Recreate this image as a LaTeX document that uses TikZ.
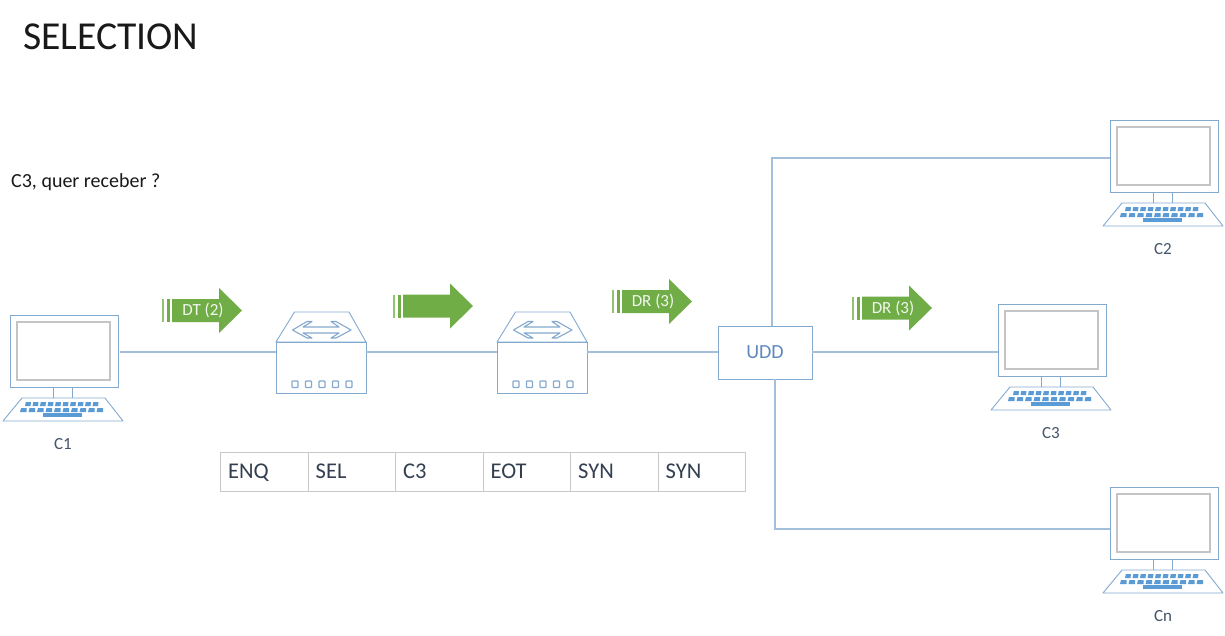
\documentclass[tikz,border=0pt]{standalone}
\usepackage{fontspec}
\setmainfont{Carlito}
\definecolor{wire}{HTML}{A3BFDC}
\definecolor{edge}{HTML}{84A9CF}
\definecolor{keyc}{HTML}{5B9BD5}
\definecolor{screen}{HTML}{C4C4C4}
\definecolor{flow}{HTML}{70AD47}
\definecolor{cap}{HTML}{44546A}
\definecolor{tabline}{HTML}{C9C9C9}
\definecolor{tabtext}{HTML}{333F50}
\definecolor{uddtext}{HTML}{5F89BE}
\tikzset{
  wireline/.style={draw=wire,line width=1.4pt},
  edgeline/.style={draw=edge,line width=0.9pt},
  monitorbox/.style={edgeline,fill=white,minimum width=108pt,minimum height=72pt,inner sep=0pt,anchor=north west},
  caplabel/.style={text=cap,font=\fontsize{17}{17}\selectfont},
  flowlabel/.style={text=white!90!flow,font=\fontsize{17}{17}\selectfont},
  cellbox/.style={draw=tabline,line width=1pt,minimum width=87.5pt,minimum height=39pt,inner sep=0pt,anchor=north west},
  celltext/.style={text=tabtext,font=\fontsize{22.5}{22.5}\selectfont,anchor=base west,inner sep=0pt},
}
\newcommand{\computerfig}[4]{%
  \begin{scope}[shift={(#2,#3)}]
    \node[monitorbox] (#1) at (0,0) {};
    \draw[draw=screen,line width=1.3pt] (7,7) rectangle (100,65);
    \draw[edgeline] (43,72) -- (43,83) (62,72) -- (62,83);
    \draw[edgeline,fill=white,line join=round] (12,83) -- (95,83) -- (113,106) -- (-7,106) -- cycle;
    \foreach \k in {0,...,9}{
      \fill[keyc] ({15.8+\k*7.5},87) -- ({21+\k*7.5},87) -- ({20.5+\k*7.5},91) -- ({15+\k*7.5},91) -- cycle;
      \fill[keyc] ({11+\k*8.5},93) -- ({16.5+\k*8.5},93) -- ({16.5+\k*8.5},97) -- ({10+\k*8.5},97) -- cycle;
    }
    \fill[keyc] (33,98.3) rectangle (72,102);
    \node[caplabel] (#1label) at (53,129) {#4};
  \end{scope}}
\newcommand{\switchfig}[2]{%
  \begin{scope}[shift={(#2,0)}]
    \draw[edgeline,fill=white,line join=round] (0,342) -- (18.5,312) -- (73,312) -- (90,342) -- cycle;
    \node[edgeline,fill=white,minimum width=90pt,minimum height=51pt,inner sep=0pt,anchor=north west] (#1) at (0,342) {};
    \coordinate (#1in) at (0,352);
    \coordinate (#1out) at (90,352);
    \draw[edgeline,line width=1.1pt,line join=round] (16.5,330) -- (31,321.5) -- (36,321.5) -- (27,327) -- (63,327) -- (55,321.5) -- (60,321.5) -- (75,330) -- (60,338) -- (55,338) -- (63,333) -- (27,333) -- (36,338) -- (31,338) -- cycle;
    \foreach \p in {0,...,4}
      \draw[edgeline,line width=1.2pt,rounded corners=0.8pt] ({16+\p*13.5},381) rectangle ({22+\p*13.5},387.5);
  \end{scope}}
\newcommand{\flowarrow}[5]{%
  \begin{scope}[shift={(#2,#3)}]
    \fill[flow!75!white] (0,-11.5) rectangle (2,11.5);
    \fill[flow] (4.5,-11.5) rectangle (8,11.5);
    \fill[flow] (10,-11.5) -- (57,-11.5) -- (57,-22.5) -- (80,0) -- (57,22.5) -- (57,11.5) -- (10,11.5) -- cycle;
    \node[flowlabel] (#1) at (41,#4) {#5};
  \end{scope}}
\begin{document}
\begin{tikzpicture}[x=1pt,y=-1pt]
\useasboundingbox (0,0) rectangle (1225,635);
\fill[white] (0,0) rectangle (1225,635);
\node[anchor=west,inner sep=0pt,font=\fontsize{39.6}{40}\selectfont,text=black!90] (title) at (23,36.5) {SELECTION};
\node[anchor=west,inner sep=0pt,font=\fontsize{20}{20}\selectfont,text=black!90] (question) at (11,182) {C3, quer receber ?};

\computerfig{cone}{10}{315}{C1}
\computerfig{ctwo}{1110}{120}{C2}
\computerfig{cthree}{998}{304}{C3}
\computerfig{cn}{1110}{487}{Cn}
\switchfig{swa}{276}
\switchfig{swb}{497}
\node[edgeline,fill=white,minimum width=94pt,minimum height=53pt,inner sep=0pt,text=uddtext,font=\fontsize{20}{20}\selectfont] (udd) at (765,352.5) {\raisebox{-1pt}{UDD}};

\coordinate (coneout) at (120,352);
\coordinate (uddin) at (718,352);
\coordinate (uddout) at (812,352);
\coordinate (cthreein) at (998,352);
\coordinate (uddup) at (772,326);
\coordinate (upbend) at (772,158);
\coordinate (ctwoin) at (1110,158);
\coordinate (udddown) at (775,379);
\coordinate (downbend) at (775,529);
\coordinate (cnin) at (1110,529);
\draw[wireline] (coneout) -- (swain);
\draw[wireline] (swaout) -- (swbin);
\draw[wireline] (swbout) -- (uddin);
\draw[wireline] (uddout) -- (cthreein);
\draw[wireline] (uddup) -- (upbend) -- (ctwoin);
\draw[wireline] (udddown) -- (downbend) -- (cnin);

\flowarrow{dt}{162}{310.5}{0}{DT (2)}
\flowarrow{mid}{393}{306}{0}{}
\flowarrow{dra}{612}{301.5}{0}{DR (3)}
\flowarrow{drb}{852}{308}{0}{DR (3)}

\foreach \n/\t [count=\i from 0] in {a/ENQ,b/SEL,c/C3,d/EOT,e/SYN,f/SYN}{
  \node[cellbox] (cell\n) at ({220+\i*87.5},452) {};
  \node[celltext] (text\n) at ({228+\i*87.5},478.5) {\t};
}
\end{tikzpicture}
\end{document}
